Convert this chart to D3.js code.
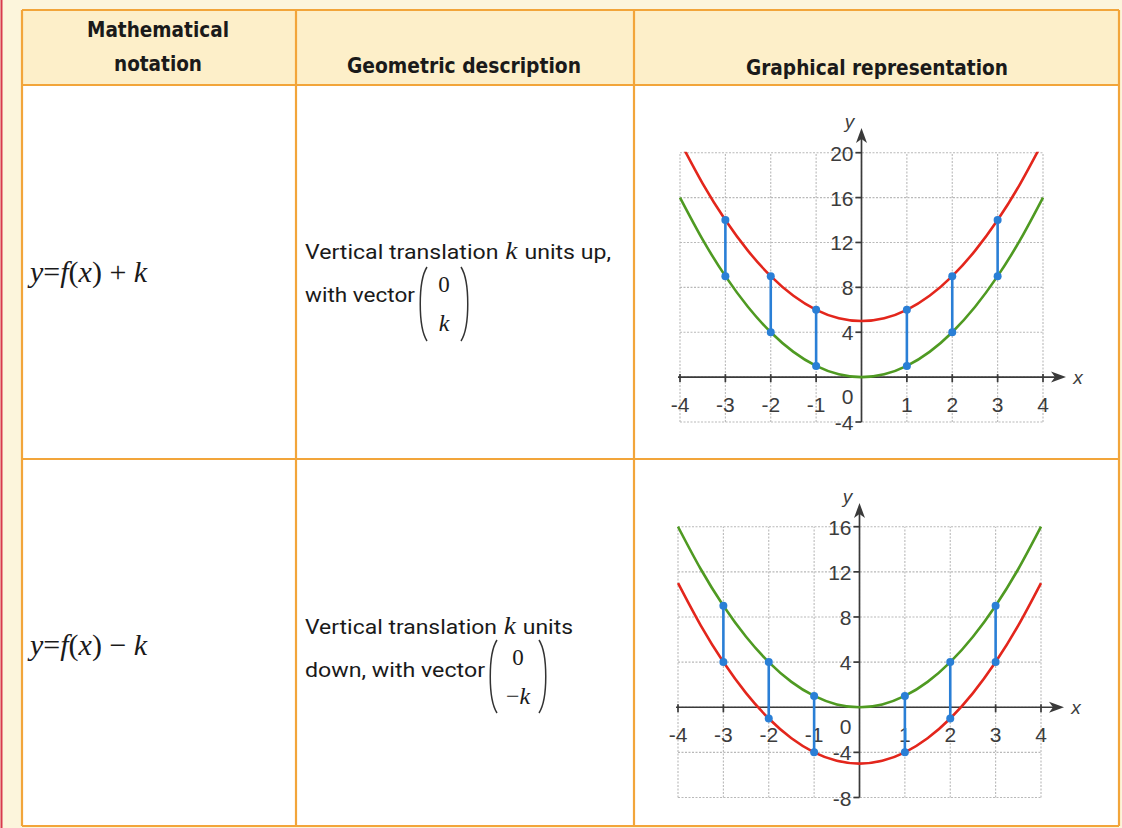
<!DOCTYPE html>
<html>
<head>
<meta charset="utf-8">
<script src="https://cdn.jsdelivr.net/npm/d3@7"></script>
<style>
  html, body { margin: 0; padding: 0; background: #fcf5dc; }
  svg { display: block; }
</style>
</head>
<body>
<svg id="sheet" width="1122" height="828"></svg>
<script>
// ---- data ----
const headers = ["Mathematical|notation", "Geometric description", "Graphical representation"];
const xTicks = [-4, -3, -2, -1, 1, 2, 3, 4];
const topYTicks = [20, 16, 12, 8, 4, -4];
const bottomYTicks = [16, 12, 8, 4, -4, -8];
// sample points of the base parabola y = x^2 and its translations
const curveX   = [-4, -3.5, -3, -2.5, -2, -1.5, -1, -0.5, 0, 0.5, 1, 1.5, 2, 2.5, 3, 3.5, 4];
const greenY   = [16, 12.25, 9, 6.25, 4, 2.25, 1, 0.25, 0, 0.25, 1, 2.25, 4, 6.25, 9, 12.25, 16];
const redUpY   = [21, 17.25, 14, 11.25, 9, 7.25, 6, 5.25, 5, 5.25, 6, 7.25, 9, 11.25, 14, 17.25, 21];
const redDownY = [11, 7.25, 4, 1.25, -1, -2.75, -4, -4.75, -5, -4.75, -4, -2.75, -1, 1.25, 4, 7.25, 11];
const markerX  = [-3, -2, -1, 1, 2, 3];

const C = { red: "#e3261c", green: "#4f9a22", blue: "#2a7fd6", axis: "#3a3a3a", grid: "#b9b9b9",
            border: "#f2a53a", head: "#fdefc9", text: "#1a1a1a" };
const headFont = "'Liberation Sans Narrow','DejaVu Sans Condensed','Roboto',sans-serif";
const bodyFont = "'Liberation Sans Narrow','Roboto','DejaVu Sans Condensed',sans-serif";
const mathFont = "'Liberation Serif','DejaVu Serif',serif";
const numFont  = "'Liberation Sans','Arial',sans-serif";

const svg = d3.select("#sheet");

// ---- page & table frame ----
svg.append("rect").attr("x", 0).attr("y", 0).attr("width", 1122).attr("height", 828).attr("fill", "#fcf5dc");
svg.append("line").attr("x1", 1.5).attr("x2", 1.5).attr("y1", 0).attr("y2", 828)
  .attr("stroke", "#d83a4e").attr("stroke-width", 2);

const colX = [22, 296, 634, 1119];
const rowY = [10, 85, 459, 826];

svg.append("rect").attr("x", colX[0]).attr("y", rowY[0]).attr("width", colX[3] - colX[0]).attr("height", rowY[1] - rowY[0])
  .attr("fill", C.head);
svg.append("rect").attr("x", colX[0]).attr("y", rowY[1]).attr("width", colX[3] - colX[0]).attr("height", rowY[3] - rowY[1])
  .attr("fill", "#ffffff");

const frame = svg.append("g").attr("stroke", C.border).attr("stroke-width", 2.2).attr("fill", "none");
rowY.forEach(y => frame.append("line").attr("x1", colX[0]).attr("x2", colX[3]).attr("y1", y).attr("y2", y));
colX.forEach(x => frame.append("line").attr("x1", x).attr("x2", x).attr("y1", rowY[0]).attr("y2", rowY[3]));

// ---- header ----
const headG = svg.append("g").attr("font-family", headFont).attr("font-weight", "bold")
  .attr("font-size", 21).attr("fill", C.text).attr("text-anchor", "middle");
headG.append("text").attr("x", 158).attr("y", 37).attr("textLength", 142).attr("lengthAdjust", "spacingAndGlyphs")
  .text(headers[0].split("|")[0]);
headG.append("text").attr("x", 158).attr("y", 71).attr("textLength", 88).attr("lengthAdjust", "spacingAndGlyphs")
  .text(headers[0].split("|")[1]);
headG.append("text").attr("x", 464).attr("y", 73).attr("textLength", 234).attr("lengthAdjust", "spacingAndGlyphs")
  .text(headers[1]);
headG.append("text").attr("x", 877).attr("y", 75).attr("textLength", 262).attr("lengthAdjust", "spacingAndGlyphs")
  .text(headers[2]);

// ---- mathematical notation ----
function mathLine(y, sign) {
  const t = svg.append("text").attr("x", 30).attr("y", y).attr("font-family", mathFont)
    .attr("font-size", 30).attr("fill", C.text);
  t.append("tspan").attr("font-style", "italic").text("y");
  t.append("tspan").text("=");
  t.append("tspan").attr("font-style", "italic").text("f");
  t.append("tspan").text("(");
  t.append("tspan").attr("font-style", "italic").text("x");
  t.append("tspan").text(") " + sign + " ");
  t.append("tspan").attr("font-style", "italic").text("k");
}
mathLine(282, "+");
mathLine(655, "\u2212");

// ---- geometric description ----
function descLine(x, y, before, after, len) {
  const t = svg.append("text").attr("x", x).attr("y", y).attr("font-family", bodyFont)
    .attr("font-size", 21).attr("fill", C.text);
  if (len) t.attr("textLength", len).attr("lengthAdjust", "spacingAndGlyphs");
  t.append("tspan").text(before);
  if (after !== null) {
    t.append("tspan").attr("font-family", mathFont).attr("font-style", "italic").attr("font-size", 25).text(" k ");
    t.append("tspan").text(after);
  }
}
function columnVector(x0, x1, y0, y1, top, bottom) {
  const g = svg.append("g");
  g.append("path").attr("d", `M${x0 + 7},${y0} C${x0 - 2},${y0 + 14} ${x0 - 2},${y1 - 14} ${x0 + 7},${y1}`)
    .attr("fill", "none").attr("stroke", "#333").attr("stroke-width", 1.5);
  g.append("path").attr("d", `M${x1 - 7},${y0} C${x1 + 2},${y0 + 14} ${x1 + 2},${y1 - 14} ${x1 - 7},${y1}`)
    .attr("fill", "none").attr("stroke", "#333").attr("stroke-width", 1.5);
  const cx = (x0 + x1) / 2;
  g.append("text").attr("x", cx).attr("y", y0 + (y1 - y0) * 0.34).attr("text-anchor", "middle")
    .attr("font-family", mathFont).attr("font-size", 23).attr("fill", C.text).text(top);
  const b = g.append("text").attr("x", cx).attr("y", y0 + (y1 - y0) * 0.87).attr("text-anchor", "middle")
    .attr("font-family", mathFont).attr("font-size", 24).attr("fill", C.text);
  if (bottom.startsWith("-")) b.append("tspan").text("\u2212");
  b.append("tspan").attr("font-style", "italic").text("k");
}
descLine(305, 259, "Vertical translation", "units up,", 306);
descLine(305, 302, "with vector", null, 110);
columnVector(420, 468, 267, 341, "0", "k");

descLine(305, 634, "Vertical translation", "units", 268);
descLine(305, 677, "down, with vector", null, 180);
columnVector(490, 546, 640, 713, "0", "-k");

// ---- graphs ----
function drawGraph(cfg) {
  const x = d3.scaleLinear().domain([-4, 4]).range(cfg.xRange);
  const y = d3.scaleLinear().domain(cfg.yDomain).range(cfg.yRange);
  const g = svg.append("g");
  const clipId = "clip" + cfg.id;
  g.append("clipPath").attr("id", clipId).append("rect")
    .attr("x", x(-4) - 3).attr("y", y(cfg.yDomain[1]) - 1)
    .attr("width", x(4) - x(-4) + 6).attr("height", y(cfg.yDomain[0]) - y(cfg.yDomain[1]) + 2);

  // dotted grid
  const grid = g.append("g").attr("stroke", C.grid).attr("stroke-width", 1.1).attr("stroke-dasharray", "2,1.5");
  d3.range(-4, 5).forEach(v => grid.append("line").attr("x1", x(v)).attr("x2", x(v))
    .attr("y1", y(cfg.yDomain[0])).attr("y2", y(cfg.yDomain[1])));
  d3.range(cfg.yDomain[0], cfg.yDomain[1] + 1, 4).forEach(v => grid.append("line")
    .attr("x1", x(-4)).attr("x2", x(4)).attr("y1", y(v)).attr("y2", y(v)));

  // axes
  const ax = g.append("g").attr("stroke", C.axis).attr("stroke-width", 1.7);
  ax.append("line").attr("x1", x(-4) - 2).attr("x2", cfg.xArrow - 8).attr("y1", y(0)).attr("y2", y(0));
  ax.append("line").attr("x1", x(0)).attr("x2", x(0)).attr("y1", y(cfg.yDomain[0])).attr("y2", cfg.yArrow + 8);
  g.append("path").attr("fill", C.axis)
    .attr("d", `M${cfg.xArrow},${y(0)} L${cfg.xArrow - 15},${y(0) - 5.5} L${cfg.xArrow - 11},${y(0)} L${cfg.xArrow - 15},${y(0) + 5.5} Z`);
  g.append("path").attr("fill", C.axis)
    .attr("d", `M${x(0)},${cfg.yArrow} L${x(0) - 5.5},${cfg.yArrow + 15} L${x(0)},${cfg.yArrow + 11} L${x(0) + 5.5},${cfg.yArrow + 15} Z`);

  // ticks
  xTicks.forEach(v => ax.append("line").attr("x1", x(v)).attr("x2", x(v)).attr("y1", y(0) - 3).attr("y2", y(0) + 5));
  cfg.yTicks.forEach(v => ax.append("line").attr("x1", x(0) - 6).attr("x2", x(0)).attr("y1", y(v)).attr("y2", y(v)));

  const lab = g.append("g").attr("font-family", numFont).attr("font-size", 21).attr("fill", "#3c3c3c");
  xTicks.forEach(v => lab.append("text").attr("x", x(v)).attr("y", y(0) + 35).attr("text-anchor", "middle")
    .text(v < 0 ? "-" + Math.abs(v) : String(v)));
  cfg.yTicks.forEach(v => lab.append("text").attr("x", x(0) - 8).attr("y", y(v) + 8).attr("text-anchor", "end")
    .text(v < 0 ? "-" + Math.abs(v) : String(v)));
  lab.append("text").attr("x", x(0) - 14).attr("y", y(0) + 27).attr("text-anchor", "middle").text("0");
  lab.append("text").attr("x", x(0) - 12).attr("y", cfg.yArrow).attr("text-anchor", "middle")
    .attr("font-size", 19).attr("font-style", "italic").text("y");
  lab.append("text").attr("x", cfg.xArrow + 12).attr("y", y(0) + 7).attr("text-anchor", "middle")
    .attr("font-size", 19).attr("font-style", "italic").text("x");

  // curves
  const line = d3.line().x(d => x(d[0])).y(d => y(d[1])).curve(d3.curveNatural);
  const curves = g.append("g").attr("clip-path", `url(#${clipId})`).attr("fill", "none").attr("stroke-width", 2.6);
  curves.append("path").attr("stroke", C.green).attr("d", line(curveX.map((v, i) => [v, greenY[i]])));
  curves.append("path").attr("stroke", C.red).attr("d", line(curveX.map((v, i) => [v, cfg.shifted[i]])));

  // translation segments with end markers
  const seg = g.append("g");
  markerX.forEach(mx => {
    const i = curveX.indexOf(mx);
    seg.append("line").attr("x1", x(mx)).attr("x2", x(mx)).attr("y1", y(greenY[i])).attr("y2", y(cfg.shifted[i]))
      .attr("stroke", C.blue).attr("stroke-width", 2.6);
    [greenY[i], cfg.shifted[i]].forEach(v => seg.append("circle").attr("cx", x(mx)).attr("cy", y(v))
      .attr("r", 4).attr("fill", C.blue));
  });
}

drawGraph({ id: "up", xRange: [680, 1043], yDomain: [-4, 20], yRange: [422, 152.7],
            yTicks: topYTicks, shifted: redUpY, xArrow: 1066, yArrow: 128 });
drawGraph({ id: "down", xRange: [678, 1041], yDomain: [-8, 16], yRange: [797.5, 526.7],
            yTicks: bottomYTicks, shifted: redDownY, xArrow: 1064, yArrow: 503 });
</script>
</body>
</html>
